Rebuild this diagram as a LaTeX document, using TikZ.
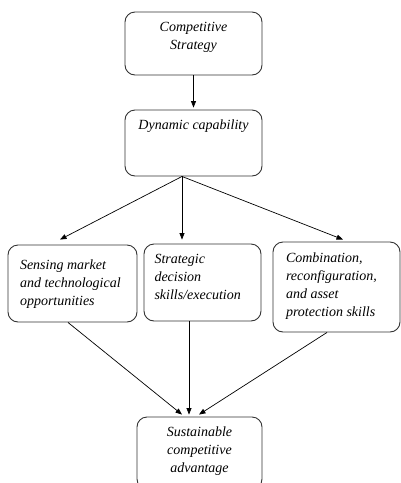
\documentclass[tikz,border=0pt]{standalone}
\usepackage{fontspec}
\setmainfont{Liberation Serif}
\usetikzlibrary{arrows.meta}

\begin{document}
\begin{tikzpicture}[x=1pt, y=-1pt,
  box/.style={draw=black!80, line width=0.9pt, rounded corners=10pt, inner sep=0pt,
    font=\fontsize{14}{18}\selectfont\itshape},
  arr/.style={line width=0.7pt, -{Triangle[length=6.5pt,width=5pt]}}]
\useasboundingbox (0,0) rectangle (400,483);
\node(cs) [box, inner xsep=6pt, inner ysep=10pt] at (193.5,43.5)
  {\parbox[c][43pt][t]{125pt}{\centering Competitive\\ Strategy}};
\node(dc) [box, inner xsep=6pt, inner ysep=10pt] at (193.5,143)
  {\parbox[c][46pt][t]{125pt}{\centering Dynamic capability}};
\node(sm) [box, inner xsep=12pt, inner ysep=15pt] at (72.5,283.5)
  {\parbox[c][47pt][t]{105pt}{\raggedright Sensing market\\ and technological\\ opportunities}};
\node(sd) [box, inner xsep=10.5pt, inner ysep=10pt] at (202.5,282.5)
  {\parbox[c][57pt][t]{96pt}{\raggedright Strategic\\ decision\\ skills/execution}};
\node(cr) [box, inner xsep=13pt, inner ysep=11pt] at (336.5,287)
  {\parbox[c][68pt][t]{101pt}{\raggedright Combination,\\ reconfiguration,\\ and asset\\ protection skills}};
\node(sca) [box, inner xsep=6pt, inner ysep=10pt] at (199.5,453)
  {\parbox[c][52pt][t]{113pt}{\centering Sustainable\\ competitive\\ advantage}};
% connectors
\coordinate(dcout) at ([xshift=-11.5pt]dc.south);
\draw[arr] (cs.south) -- ([yshift=2pt]dc.north);
\draw[arr] (dcout) -- ([xshift=-12.5pt, yshift=5pt]sm.north);
\draw[arr] (dcout) -- ([xshift=-20.5pt, yshift=4pt]sd.north);
\draw[arr] (dcout) -- ([xshift=6.5pt, yshift=2pt]cr.north);
\draw[arr] ([xshift=-4.5pt]sm.south) -- ([xshift=-17.5pt, yshift=2pt]sca.north);
\draw[arr] ([xshift=-13.5pt]sd.south) -- ([xshift=-10.5pt, yshift=2pt]sca.north);
\draw[arr] ([xshift=-9.5pt]cr.south) -- ([xshift=-0.5pt, yshift=2pt]sca.north);
\end{tikzpicture}
\end{document}
